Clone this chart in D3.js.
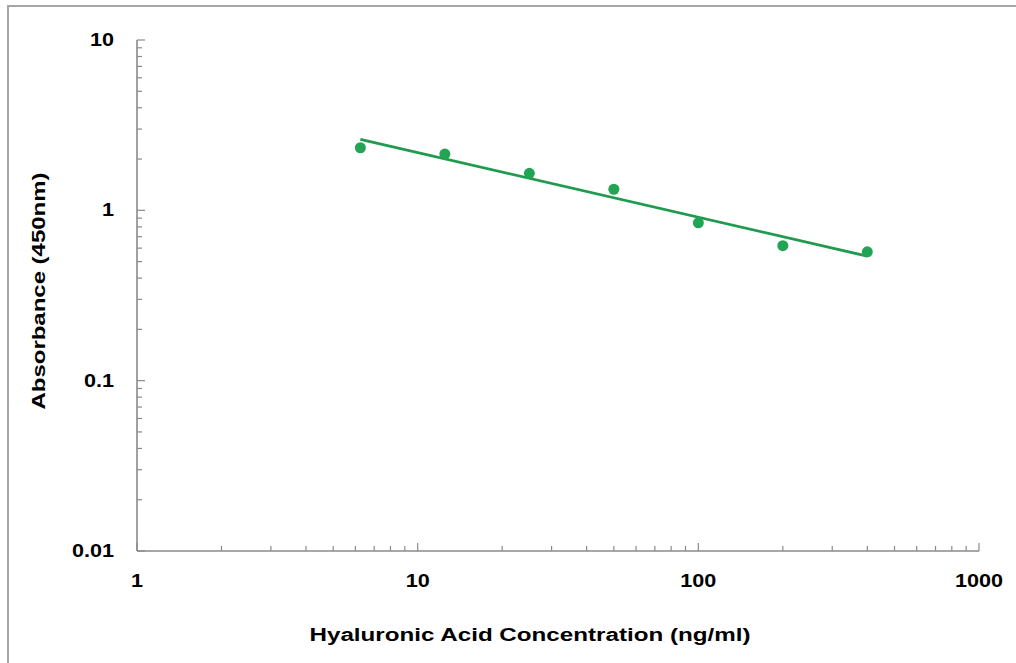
<!DOCTYPE html>
<html><head><meta charset="utf-8">
<script src="https://cdn.jsdelivr.net/npm/d3@7"></script>
<style>
html,body{margin:0;padding:0;background:#fff;overflow:hidden;}
svg{display:block;}
text{font-family:"Liberation Sans",Arial,sans-serif;font-weight:bold;fill:#000;}
</style></head>
<body>
<svg id="chart" width="1016" height="663"></svg>
<script>
// Data
const concentrations = [6.25, 12.5, 25, 50, 100, 200, 400];
const absorbance = [2.33, 2.14, 1.65, 1.33, 0.845, 0.62, 0.571];
const xTickLabels = [1, 10, 100, 1000];
const yTickLabels = [0.01, 0.1, 1, 10];
const xTitle = "Hyaluronic Acid Concentration (ng/ml)";
const yTitle = "Absorbance (450nm)";

(function () {
const svg = d3.select("#chart");
const W = 1016, H = 663;
const pL = 137, pR = 979, pT = 40, pB = 551;

// outer border: only the left and top edges lie inside the picture
svg.append("path").attr("d", `M8,${H}V6H${W}`)
  .attr("fill", "none").attr("stroke", "#a6a6a6").attr("stroke-width", 2);

const x = d3.scaleLog().domain([1, 1000]).range([pL, pR]);
const y = d3.scaleLog().domain([0.01, 10]).range([pB, pT]);

const axisColor = "#8a8a8a";
const sx = 1.2;

function minorTicks(lo, hi) {
  const out = [];
  for (let e = Math.round(Math.log10(lo)); e < Math.round(Math.log10(hi)); e++) {
    for (let m = 2; m <= 9; m++) out.push(m * Math.pow(10, e));
  }
  return out;
}

// X axis
const gx = svg.append("g");
gx.append("line").attr("x1", pL).attr("x2", pR).attr("y1", pB).attr("y2", pB)
  .attr("stroke", axisColor).attr("stroke-width", 1.6);
gx.selectAll(".xmin").data(minorTicks(1, 1000)).join("line")
  .attr("x1", d => x(d)).attr("x2", d => x(d)).attr("y1", pB).attr("y2", pB - 5)
  .attr("stroke", axisColor).attr("stroke-width", 1.2);
gx.selectAll(".xmaj").data(xTickLabels).join("line")
  .attr("x1", d => x(d)).attr("x2", d => x(d)).attr("y1", pB).attr("y2", pB - 8)
  .attr("stroke", axisColor).attr("stroke-width", 1.2);
gx.selectAll(".xlab").data(xTickLabels).join("g")
  .attr("transform", d => `translate(${x(d)},587) scale(${sx},1)`)
  .append("text").attr("text-anchor", "middle").style("font-size", "18px").text(d => d);

// Y axis
const gy = svg.append("g");
gy.append("line").attr("x1", pL).attr("x2", pL).attr("y1", pT).attr("y2", pB)
  .attr("stroke", axisColor).attr("stroke-width", 1.6);
gy.selectAll(".ymin").data(minorTicks(0.01, 10)).join("line")
  .attr("x1", pL).attr("x2", pL + 5).attr("y1", d => y(d)).attr("y2", d => y(d))
  .attr("stroke", axisColor).attr("stroke-width", 1.2);
gy.selectAll(".ymaj").data(yTickLabels).join("line")
  .attr("x1", pL).attr("x2", pL + 8).attr("y1", d => y(d)).attr("y2", d => y(d))
  .attr("stroke", axisColor).attr("stroke-width", 1.2);
gy.selectAll(".ylab").data(yTickLabels).join("g")
  .attr("transform", d => `translate(114,${y(d) + 6}) scale(${sx},1)`)
  .append("text").attr("text-anchor", "end").style("font-size", "18px").text(d => d);

// Titles
svg.append("text").attr("x", 530).attr("y", 641).attr("text-anchor", "middle")
  .style("font-size", "17.5px").attr("textLength", 441).attr("lengthAdjust", "spacingAndGlyphs")
  .text(xTitle);
svg.append("text").attr("transform", "translate(44.5,291) rotate(-90)").attr("text-anchor", "middle")
  .style("font-size", "18px").attr("textLength", 237).attr("lengthAdjust", "spacingAndGlyphs")
  .text(yTitle);

// Power trendline (least squares in log-log space)
const lx = concentrations.map(Math.log10), ly = absorbance.map(Math.log10);
const mx = d3.mean(lx), my = d3.mean(ly);
const slope = d3.sum(lx, (v, i) => (v - mx) * (ly[i] - my)) / d3.sum(lx, v => (v - mx) * (v - mx));
const icpt = my - slope * mx;
const xEnds = [d3.min(concentrations), d3.max(concentrations)];
const fit = xEnds.map(c => [c, Math.pow(10, icpt + slope * Math.log10(c))]);

const green = "#21a453";
svg.append("path").datum(fit)
  .attr("d", d3.line().x(d => x(d[0])).y(d => y(d[1])))
  .attr("fill", "none").attr("stroke", "#1f9b4f").attr("stroke-width", 2.8);

svg.selectAll(".pt").data(concentrations).join("circle")
  .attr("cx", d => x(d)).attr("cy", (d, i) => y(absorbance[i])).attr("r", 5.5)
  .attr("fill", green);
})();
</script>
</body></html>
